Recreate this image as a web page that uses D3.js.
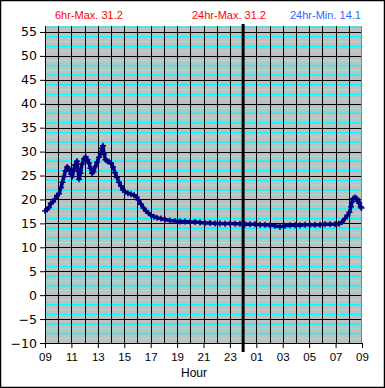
<!DOCTYPE html>
<html>
<head>
<meta charset="utf-8">
<script src="https://cdn.jsdelivr.net/npm/d3@7"></script>
<style>
  html, body { margin: 0; padding: 0; background: #fff; }
  svg { display: block; }
</style>
</head>
<body>
<svg id="chart" width="385" height="388"></svg>
<script>
// ---- data (hours after 09:00, temperature) ----
const hours = [0,0.15,0.30,0.45,0.61,0.76,0.91,1.06,1.21,1.32,1.44,1.55,1.67,1.78,1.89,1.97,2.07,2.16,2.27,2.42,2.50,2.57,2.69,2.80,2.95,3.08,3.22,3.33,3.44,3.56,3.67,3.82,3.94,4.09,4.20,4.32,4.39,4.47,4.58,4.73,4.85,5.00,5.15,5.30,5.45,5.60,5.75,5.91,6.06,6.28,6.51,6.74,6.93,7.08,7.27,7.46,7.65,7.84,8.03,8.25,8.48,8.78,9.09,9.46,9.84,10.22,10.60,10.98,11.36,11.74,12.11,12.49,12.87,13.25,13.63,14.01,14.39,14.76,15.14,15.52,15.90,16.28,16.66,17.04,17.41,17.79,18.17,18.55,18.93,19.31,19.69,20.06,20.44,20.82,21.20,21.58,21.96,22.26,22.49,22.71,22.90,23.05,23.17,23.24,23.34,23.47,23.60,23.70,23.79,23.90,23.96];
const temps = [17.6,17.9,18.3,19.2,19.5,20.1,20.8,21.2,22.5,23.6,24.8,26.0,26.8,26.5,25.9,25.3,24.8,26.0,27.2,28.0,26.0,24.2,25.5,27.4,28.5,28.9,28.3,27.6,26.5,25.5,25.8,26.9,27.8,28.8,29.6,30.7,31.2,29.5,28.3,28.0,27.9,27.6,26.8,25.6,24.6,23.6,22.8,22.0,21.6,21.3,21.1,20.9,20.5,19.9,19.0,18.2,17.6,17.1,16.7,16.4,16.2,16.0,15.8,15.6,15.5,15.4,15.4,15.3,15.3,15.2,15.1,15.1,15.0,15.0,14.9,15.0,14.9,14.9,14.8,14.8,14.8,14.7,14.7,14.6,14.5,14.3,14.5,14.6,14.6,14.6,14.7,14.7,14.7,14.7,14.8,14.8,14.8,14.9,15.3,16.0,16.7,17.3,18.5,19.5,20.2,20.4,20.2,19.6,19.2,18.5,18.2];

const yTicks = [-10,-5,0,5,10,15,20,25,30,35,40,45,50,55];
const xTickHours = [0,2,4,6,8,10,12,14,16,18,20,22,24];
const xTickLabels = ["09","11","13","15","17","19","21","23","01","03","05","07","09"];
const statLabels = ["6hr-Max.", "24hr-Max.", "24hr-Min."];
const statValues = [31.2, 31.2, 14.1];
const midnightHour = 15;

// ---- layout ----
const svg = d3.select("#chart");
const L = 45, R = 362, T = 26, B = 343;
const x = d3.scaleLinear().domain([0, 24]).range([L, R]);
const y = d3.scaleLinear().domain([-10, 56.25]).range([B, T]);

// outer frame
svg.append("rect").attr("x", 0.5).attr("y", 0.5).attr("width", 384).attr("height", 387)
  .attr("fill", "#fff").attr("stroke", "#000").attr("stroke-width", 1.5);

// plot background
svg.append("rect").attr("x", L).attr("y", T).attr("width", R - L).attr("height", B - T)
  .attr("fill", "#c0c0c0");

const grid = svg.append("g");
// minor horizontal lines
const minor = d3.range(-9, 57).filter(v => v % 5 !== 0);
grid.selectAll("line.minor").data(minor).join("line")
  .attr("x1", L).attr("x2", R)
  .attr("y1", d => y(d)).attr("y2", d => y(d))
  .attr("stroke", d => (Math.abs(d) % 2 === 0) ? "#00ffff" : "#9ae2e2")
  .attr("stroke-width", d => (Math.abs(d) % 2 === 0) ? 1.6 : 1);

// major horizontal lines
grid.selectAll("line.major").data(yTicks.filter(v => v > -10)).join("line")
  .attr("x1", L).attr("x2", R)
  .attr("y1", d => Math.round(y(d)) + 0.5).attr("y2", d => Math.round(y(d)) + 0.5)
  .attr("stroke", "#000").attr("stroke-width", 1);

// vertical hour lines
grid.selectAll("line.v").data(d3.range(1, 24)).join("line")
  .attr("x1", d => Math.round(x(d)) + 0.5).attr("x2", d => Math.round(x(d)) + 0.5)
  .attr("y1", T).attr("y2", B)
  .attr("stroke", "#000").attr("stroke-width", 1);

// right border of plot
svg.append("line").attr("x1", R - 0.5).attr("x2", R - 0.5).attr("y1", T).attr("y2", B)
  .attr("stroke", "#808080").attr("stroke-width", 1);

// axes
const yAxis = svg.append("g").attr("transform", `translate(${L},0)`)
  .call(d3.axisLeft(y).tickValues(yTicks).tickSize(5).tickPadding(3).tickFormat(d3.format("d")));
yAxis.select(".domain").remove();
yAxis.selectAll("line").attr("stroke", "#000");
yAxis.selectAll("text").attr("font-family", "DejaVu Sans, Verdana, sans-serif")
  .attr("font-size", 12.5).attr("fill", "#000");

const xAxis = svg.append("g").attr("transform", `translate(0,${B})`)
  .call(d3.axisBottom(x).tickValues(xTickHours).tickSize(5).tickPadding(5)
    .tickFormat((d, i) => xTickLabels[i]));
xAxis.select(".domain").remove();
xAxis.selectAll("line").attr("stroke", "#000");
xAxis.selectAll("text").attr("font-family", "Liberation Sans, Arial, sans-serif")
  .attr("font-size", 11.5).attr("fill", "#000");

// axis lines
svg.append("line").attr("x1", L + 0.5).attr("x2", L + 0.5).attr("y1", T).attr("y2", B + 0.5)
  .attr("stroke", "#000");
svg.append("line").attr("x1", L).attr("x2", R).attr("y1", B + 0.5).attr("y2", B + 0.5)
  .attr("stroke", "#000");

// midnight line
svg.append("line").attr("x1", x(midnightHour)).attr("x2", x(midnightHour))
  .attr("y1", T - 2).attr("y2", B + 9)
  .attr("stroke", "#000").attr("stroke-width", 3);

// series
const pts = hours.map((h, i) => [h, temps[i]]);
const line = d3.line().x(d => x(d[0])).y(d => y(d[1]));
svg.append("path").datum(pts).attr("d", line)
  .attr("fill", "none").attr("stroke", "#000080").attr("stroke-width", 3.5)
  .attr("stroke-linejoin", "round");
svg.append("g").selectAll("path").data(pts).join("path")
  .attr("transform", d => `translate(${x(d[0])},${y(d[1])})`)
  .attr("d", "M-3,0H3M0,-3V3")
  .attr("stroke", "#000080").attr("stroke-width", 1.5).attr("fill", "none");

// header stats
const statX = [55, 192, 290];
const statColors = ["#ff0000", "#ff0000", "#3366ff"];
svg.append("g").selectAll("text").data(statLabels).join("text")
  .attr("x", (d, i) => statX[i]).attr("y", 19)
  .attr("font-family", "Liberation Sans, Arial, sans-serif").attr("font-size", 11)
  .attr("fill", (d, i) => statColors[i])
  .text((d, i) => `${d} ${statValues[i].toFixed(1)}`);

// x axis title
svg.append("text").attr("x", 194).attr("y", 377).attr("text-anchor", "middle")
  .attr("font-family", "Liberation Sans, Arial, sans-serif").attr("font-size", 12)
  .attr("fill", "#000").text("Hour");
</script>
</body>
</html>
